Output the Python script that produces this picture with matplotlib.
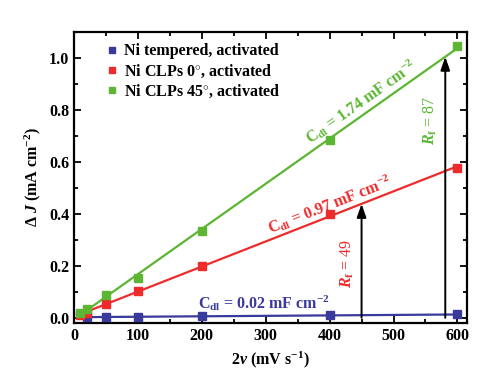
import numpy as np
import matplotlib
matplotlib.use("Agg")
import matplotlib.pyplot as plt
from matplotlib.ticker import MultipleLocator

plt.rcParams['font.family'] = ['Liberation Serif', 'DejaVu Serif']
plt.rcParams['font.weight'] = 'bold'
plt.rcParams['mathtext.fontset'] = 'custom'
plt.rcParams['mathtext.rm'] = 'Liberation Serif:bold'
plt.rcParams['mathtext.it'] = 'Liberation Serif:italic:bold'
plt.rcParams['mathtext.bf'] = 'Liberation Serif:bold'

# Data
scan_tempered = [20, 50, 100, 200, 400, 600]
dj_tempered = [0.003, 0.003, 0.004, 0.006, 0.009, 0.013]
scan_clp0 = [10, 20, 50, 100, 200, 400, 600]
dj_clp0 = [0.01, 0.02, 0.052, 0.105, 0.200, 0.400, 0.576]
scan_clp45 = [10, 20, 50, 100, 200, 400, 600]
dj_clp45 = [0.02, 0.035, 0.087, 0.152, 0.335, 0.685, 1.046]
labels = ['Ni tempered, activated', 'Ni CLPs 0$^{\\circ}$, activated', 'Ni CLPs 45$^{\\circ}$, activated']
cdl_texts = ['0.02', '0.97', '1.74']
rf_texts = ['49', '87']
arrow_x = [450, 581]
colors = ['#3a3a9c', '#ee2b2b', '#5cb533']

fig = plt.figure(figsize=(5.0, 3.92), dpi=100)
ax = fig.add_axes([0.148, 0.176, 0.786, 0.742])

series = [(scan_tempered, dj_tempered), (scan_clp0, dj_clp0), (scan_clp45, dj_clp45)]
fits = []
for (xs, ys), c, lab in zip(series, colors, labels):
    xs = np.array(xs, float); ys = np.array(ys, float)
    p = np.polyfit(xs, ys, 1)
    fits.append(p)
    xf = np.array([xs.min(), xs.max()])
    ax.plot(xf, np.polyval(p, xf), color=c, lw=1.6, zorder=2)
    ax.plot(xs, ys, 's', color=c, ms=5.5, label=lab, zorder=3)

# arrows
for xa, p in zip(arrow_x, [fits[1], fits[2]]):
    ax.annotate('', xy=(xa, np.polyval(p, xa)), xytext=(xa, 0),
                arrowprops=dict(arrowstyle='-|>,head_length=0.8,head_width=0.28', color='black', lw=1.4,
                                shrinkA=0, shrinkB=0), zorder=4)

ax.set_xlim(0, 615)
ax.set_ylim(-0.02, 1.10)
ax.xaxis.set_major_locator(MultipleLocator(100))
ax.xaxis.set_minor_locator(MultipleLocator(50))
ax.yaxis.set_major_locator(MultipleLocator(0.2))
ax.yaxis.set_minor_locator(MultipleLocator(0.1))
ax.yaxis.set_major_formatter(matplotlib.ticker.FormatStrFormatter('%.1f'))
ax.tick_params(which='both', direction='in', top=True, right=True, width=1.3)
ax.tick_params(which='major', length=5, labelsize=11.5)
ax.tick_params(which='minor', length=3)
for s in ax.spines.values():
    s.set_linewidth(1.6)

ax.set_xlabel('2$\\mathit{\\nu}$ (mV s$^{-1}$)', fontsize=11.5, fontweight='bold')
ax.set_ylabel('$\\Delta$ $\\mathit{J}$ (mA cm$^{-2}$)', fontsize=11.5, fontweight='bold')

leg = ax.legend(loc='upper left', frameon=False, fontsize=11.5, handlelength=0.6,
                handletextpad=0.5, labelspacing=0.2, borderaxespad=0.3,
                bbox_to_anchor=(0.055, 1.0), markerscale=0.8)

# Cdl labels
def cdl(v):
    return 'C$_{\\mathrm{dl}}$ = ' + v + ' mF cm$^{-2}$'
ax.text(450, 0.83, cdl(cdl_texts[2]), color=colors[2], fontsize=11.5, rotation=35.3,
        ha='center', va='center', rotation_mode='anchor')
ax.text(400, 0.435, cdl(cdl_texts[1]), color=colors[1], fontsize=11.5, rotation=21.5,
        ha='center', va='center', rotation_mode='anchor')
ax.text(297, 0.055, cdl(cdl_texts[0]), color=colors[0], fontsize=11.5,
        ha='center', va='center')
ax.text(557, 0.76, '$\\mathit{R}_{\\mathrm{f}}$ = ' + rf_texts[1], color=colors[2], fontsize=11.5,
        rotation=90, ha='center', va='center', fontweight='normal')
ax.text(427, 0.21, '$\\mathit{R}_{\\mathrm{f}}$ = ' + rf_texts[0], color=colors[1], fontsize=11.5,
        rotation=90, ha='center', va='center', fontweight='normal')

fig.savefig('out.png', dpi=100)
